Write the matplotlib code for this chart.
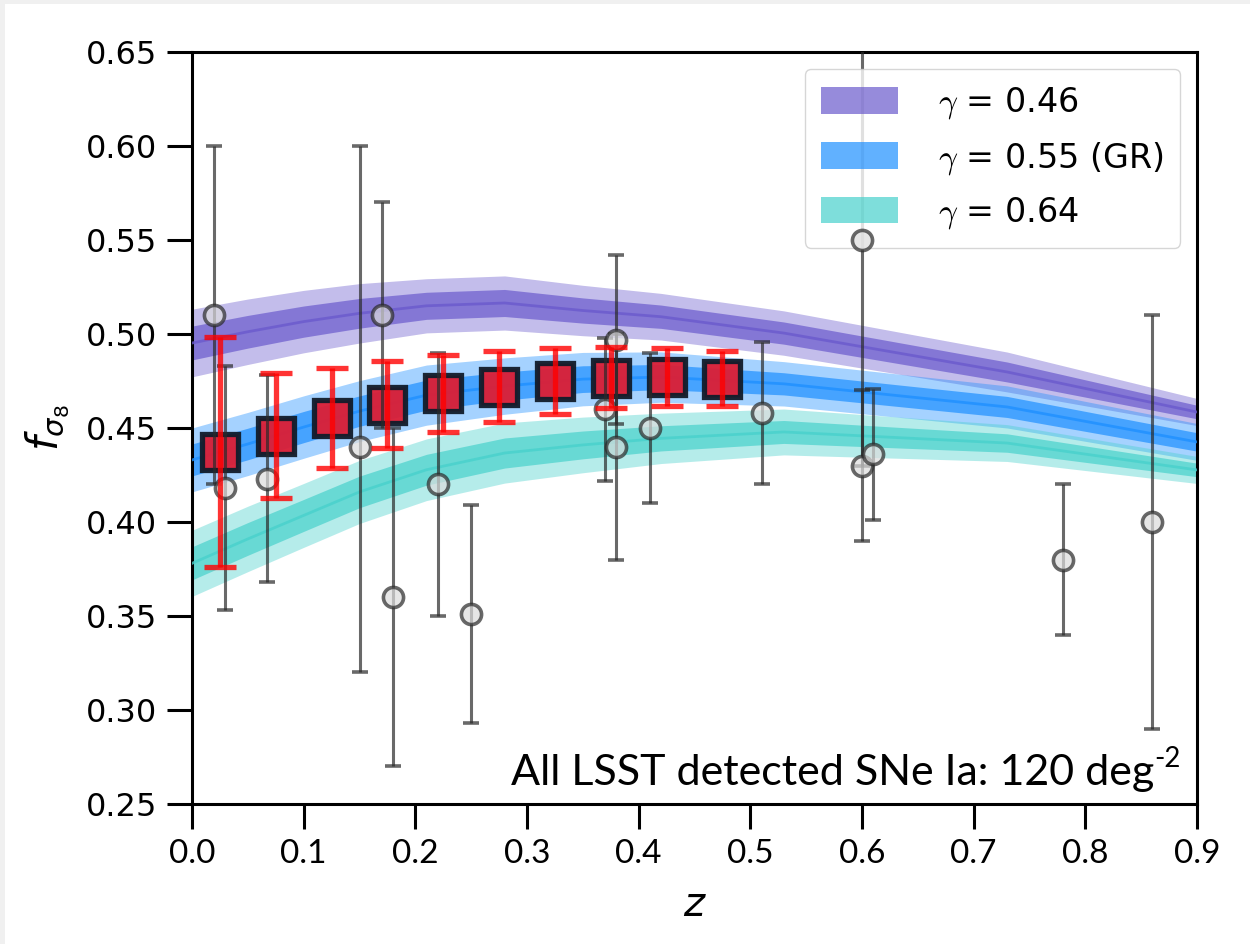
import numpy as np
import matplotlib
matplotlib.use('Agg')
import matplotlib.pyplot as plt
from matplotlib.patches import Patch, Rectangle
from matplotlib.font_manager import FontProperties

# growth-rate model bands (at a few z nodes)
z_nodes = [0.0, 0.05, 0.10, 0.15, 0.21, 0.28, 0.35, 0.42, 0.53, 0.73, 0.90]
fs8_g046 = [0.4952, 0.5012, 0.5066, 0.5110, 0.5150, 0.5165, 0.5125, 0.5092, 0.5005, 0.4798, 0.4585]
fs8_g055 = [0.4330, 0.4415, 0.4505, 0.4590, 0.4675, 0.4723, 0.4760, 0.4771, 0.4735, 0.4612, 0.4426]
fs8_g064 = [0.3780, 0.3910, 0.4035, 0.4160, 0.4278, 0.4367, 0.4410, 0.4445, 0.4479, 0.4420, 0.4277]
sig_g046 = [0.0090, 0.0087, 0.0083, 0.0079, 0.0072, 0.0072, 0.0067, 0.0062, 0.0059, 0.0053, 0.0036]
sig_g055 = [0.0085, 0.0084, 0.0083, 0.0081, 0.0080, 0.0075, 0.0071, 0.0067, 0.0059, 0.0056, 0.0049]
sig_g064 = [0.0088, 0.0087, 0.0085, 0.0084, 0.0082, 0.0080, 0.0074, 0.0067, 0.0061, 0.0049, 0.0036]

# existing measurements (grey circles)
z_obs = [0.02, 0.03, 0.067, 0.15, 0.17, 0.18, 0.22, 0.25, 0.37, 0.38, 0.38, 0.41, 0.51, 0.60, 0.60, 0.61, 0.78, 0.86]
fs8_obs = [0.51, 0.418, 0.423, 0.44, 0.51, 0.36, 0.42, 0.351, 0.460, 0.497, 0.44, 0.45, 0.458, 0.55, 0.43, 0.436, 0.38, 0.40]
err_lo = [0.09, 0.065, 0.055, 0.12, 0.06, 0.09, 0.07, 0.058, 0.038, 0.045, 0.06, 0.04, 0.038, 0.12, 0.04, 0.035, 0.04, 0.11]
err_hi = [0.09, 0.065, 0.055, 0.16, 0.06, 0.09, 0.07, 0.058, 0.038, 0.045, 0.06, 0.04, 0.038, 0.12, 0.04, 0.035, 0.04, 0.11]

# LSST SNe Ia forecast (red squares)
z_lsst = [0.025, 0.075, 0.125, 0.175, 0.225, 0.275, 0.325, 0.375, 0.425, 0.475]
fs8_lsst = [0.4372, 0.4460, 0.4553, 0.4625, 0.4685, 0.4720, 0.4748, 0.4768, 0.4770, 0.4762]
err_lsst = [0.061, 0.033, 0.0265, 0.023, 0.0205, 0.019, 0.0176, 0.0163, 0.0155, 0.0145]

models = [
    (r'$\gamma$ = 0.46', fs8_g046, sig_g046, 'slateblue'),
    (r'$\gamma$ = 0.55 (GR)', fs8_g055, sig_g055, 'dodgerblue'),
    (r'$\gamma$ = 0.64', fs8_g064, sig_g064, 'mediumturquoise'),
]

fig = plt.figure(figsize=(12.5, 9.44), dpi=100)
fig.patch.set_facecolor('#f0f0f0')
fig.patches.append(Rectangle((5 / 1250, 0), 1, 1 - 4 / 944, transform=fig.transFigure,
                             facecolor='white', edgecolor='none', zorder=-10))
ax = fig.add_axes([0.1536, 0.1483, 0.8040, 0.7966])

handles = []
zn = np.array(z_nodes)
for label, mid, sig, col in models:
    mid = np.array(mid)
    sig = np.array(sig)
    ax.fill_between(zn, mid - 2 * sig, mid + 2 * sig, color=col, alpha=0.4, lw=0, zorder=1)
    ax.fill_between(zn, mid - sig, mid + sig, color=col, alpha=0.7, lw=0, zorder=2)
    ax.plot(zn, mid, color=col, lw=2, alpha=0.8, zorder=3)
    handles.append(Patch(facecolor=col, alpha=0.7, label=label))

# forecast squares, then the grey data, then the red bars on top
ax.plot(z_lsst, fs8_lsst, 's', ms=26, mfc='#dc1e34', mec='#111c2a', mew=3.8, alpha=0.95, zorder=4)
ax.errorbar(z_obs, fs8_obs, yerr=[err_lo, err_hi], fmt='o', ms=14.5, mfc='#dcdcdc', mec='#2a2a2a',
            mew=2.6, ecolor='#2a2a2a', elinewidth=2.2, capsize=6, capthick=2.2, alpha=0.7, zorder=5)
ax.errorbar(z_lsst, fs8_lsst, yerr=err_lsst, fmt='none', ecolor='red', elinewidth=3.8,
            capsize=11.5, capthick=3.8, alpha=0.8, zorder=6)

ax.set_xlim(0, 0.9)
ax.set_ylim(0.25, 0.65)
ax.set_xticks(np.arange(0, 0.91, 0.1))
ax.set_yticks(np.arange(0.25, 0.651, 0.05))
ax.set_xticklabels(['%.1f' % v for v in np.arange(0, 0.91, 0.1)], family='Lato', fontsize=24)
ax.set_yticklabels(['%.2f' % v for v in np.arange(0.25, 0.651, 0.05)], family='DejaVu Sans', fontsize=23)
ax.tick_params(direction='out', length=18, width=2.2, pad=7)
for s in ax.spines.values():
    s.set_linewidth(2.2)

ax.set_xlabel('$z$', fontsize=29, labelpad=12)
ax.set_ylabel(r'$f_{\sigma_8}$', fontsize=30, labelpad=10)

# annotation: main text plus a small raised "-2"
ax.annotate('All LSST detected SNe Ia: 120 deg', xy=(0.981, 0.025), xycoords='axes fraction',
            xytext=(-17, 0), textcoords='offset points', ha='right', va='baseline',
            family='Lato', fontsize=31)
ax.annotate('-2', xy=(0.981, 0.025), xycoords='axes fraction',
            xytext=(-17, 13), textcoords='offset points', ha='left', va='baseline',
            family='Lato', fontsize=20)

leg_font = FontProperties(family='DejaVu Sans', size=24, math_fontfamily='cm')
ax.legend(handles=handles, loc='upper right', prop=leg_font, handlelength=2.3, handleheight=0.85,
          labelspacing=0.55, borderpad=0.5, handletextpad=1.2, framealpha=0.8, edgecolor='#cccccc')

fig.savefig('out.png', dpi=100, facecolor=fig.get_facecolor())
